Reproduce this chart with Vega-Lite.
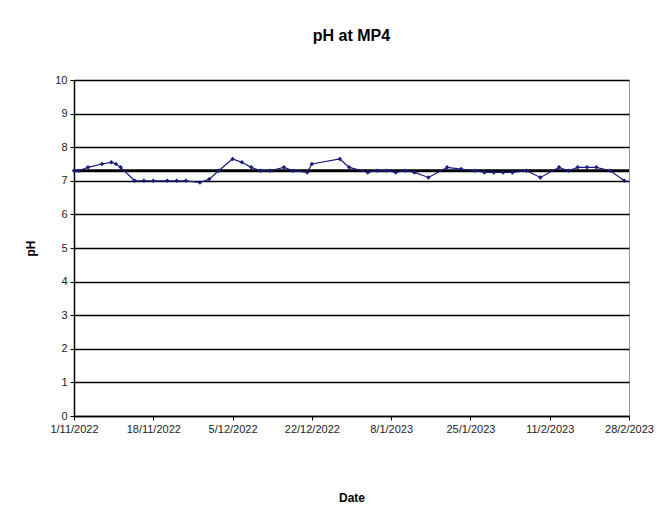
{
  "$schema": "https://vega.github.io/schema/vega-lite/v6.json",
  "width": 555,
  "height": 336,
  "autosize": {"type": "none"},
  "padding": {"left": 74, "top": 80, "right": 42, "bottom": 101},
  "background": "white",
  "title": {"text": "pH at MP4", "fontSize": 16, "font": "Liberation Sans", "fontWeight": "bold", "color": "black", "offset": 30},
  "config": {
    "view": {"stroke": "#999999", "strokeWidth": 1},
    "axis": {"labelFont": "Liberation Sans", "titleFont": "Liberation Sans", "labelColor": "#222222", "titleColor": "black", "labelFontSize": 11, "titleFontSize": 12, "titleFontWeight": "bold"}
  },
  "datasets": {
    "ph": [
      {"date": "2022-11-01", "pH": 7.3},
      {"date": "2022-11-02", "pH": 7.3},
      {"date": "2022-11-04", "pH": 7.4},
      {"date": "2022-11-07", "pH": 7.5},
      {"date": "2022-11-09", "pH": 7.55},
      {"date": "2022-11-10", "pH": 7.5},
      {"date": "2022-11-11", "pH": 7.4},
      {"date": "2022-11-14", "pH": 7.0},
      {"date": "2022-11-16", "pH": 7.0},
      {"date": "2022-11-18", "pH": 7.0},
      {"date": "2022-11-21", "pH": 7.0},
      {"date": "2022-11-23", "pH": 7.0},
      {"date": "2022-11-25", "pH": 7.0},
      {"date": "2022-11-28", "pH": 6.95},
      {"date": "2022-11-30", "pH": 7.05},
      {"date": "2022-12-02", "pH": 7.3},
      {"date": "2022-12-05", "pH": 7.65},
      {"date": "2022-12-07", "pH": 7.55},
      {"date": "2022-12-09", "pH": 7.4},
      {"date": "2022-12-11", "pH": 7.3},
      {"date": "2022-12-13", "pH": 7.3},
      {"date": "2022-12-16", "pH": 7.4},
      {"date": "2022-12-18", "pH": 7.3},
      {"date": "2022-12-21", "pH": 7.25},
      {"date": "2022-12-22", "pH": 7.5},
      {"date": "2022-12-28", "pH": 7.65},
      {"date": "2022-12-30", "pH": 7.4},
      {"date": "2023-01-03", "pH": 7.25},
      {"date": "2023-01-05", "pH": 7.3},
      {"date": "2023-01-07", "pH": 7.3},
      {"date": "2023-01-09", "pH": 7.25},
      {"date": "2023-01-11", "pH": 7.3},
      {"date": "2023-01-13", "pH": 7.25},
      {"date": "2023-01-16", "pH": 7.1},
      {"date": "2023-01-20", "pH": 7.4},
      {"date": "2023-01-23", "pH": 7.35},
      {"date": "2023-01-26", "pH": 7.3},
      {"date": "2023-01-28", "pH": 7.25},
      {"date": "2023-01-30", "pH": 7.25},
      {"date": "2023-02-01", "pH": 7.25},
      {"date": "2023-02-03", "pH": 7.25},
      {"date": "2023-02-06", "pH": 7.3},
      {"date": "2023-02-09", "pH": 7.1},
      {"date": "2023-02-13", "pH": 7.4},
      {"date": "2023-02-15", "pH": 7.3},
      {"date": "2023-02-17", "pH": 7.4},
      {"date": "2023-02-19", "pH": 7.4},
      {"date": "2023-02-21", "pH": 7.4},
      {"date": "2023-02-24", "pH": 7.3},
      {"date": "2023-02-27", "pH": 7.0}
    ],
    "mean": [
      {"date": "2022-11-01", "pH": 7.3},
      {"date": "2023-02-28", "pH": 7.3}
    ]
  },
  "encoding": {
    "x": {
      "field": "date", "type": "temporal", "title": "Date",
      "scale": {"type": "utc", "domain": [{"year": 2022, "month": 11, "date": 1, "utc": true}, {"year": 2023, "month": 2, "date": 28, "utc": true}], "nice": false},
      "axis": {
        "values": [
          {"year": 2022, "month": 11, "date": 1, "utc": true},
          {"year": 2022, "month": 11, "date": 18, "utc": true},
          {"year": 2022, "month": 12, "date": 5, "utc": true},
          {"year": 2022, "month": 12, "date": 22, "utc": true},
          {"year": 2023, "month": 1, "date": 8, "utc": true},
          {"year": 2023, "month": 1, "date": 25, "utc": true},
          {"year": 2023, "month": 2, "date": 11, "utc": true},
          {"year": 2023, "month": 2, "date": 28, "utc": true}
        ],
        "labelExpr": "utcFormat(datum.value, '%-d/%-m/%Y')", "grid": false,
        "domainColor": "black", "domainWidth": 1.5, "tickColor": "black", "tickSize": 4,
        "labelAngle": 0, "labelPadding": 3, "labelFlush": false, "labelOverlap": false, "titlePadding": 58
      }
    },
    "y": {
      "field": "pH", "type": "quantitative", "title": "pH",
      "scale": {"domain": [0, 10], "nice": false, "zero": true},
      "axis": {
        "values": [0, 1, 2, 3, 4, 5, 6, 7, 8, 9, 10], "grid": true, "gridColor": "black", "gridWidth": 1.5, "gridOpacity": 1,
        "domainColor": "black", "domainWidth": 1.5, "tickColor": "black", "tickSize": 4, "labelPadding": 3, "titlePadding": 17
      }
    }
  },
  "layer": [
    {
      "data": {"name": "mean"},
      "mark": {"type": "line", "color": "black", "strokeWidth": 3}
    },
    {
      "data": {"name": "ph"},
      "mark": {"type": "line", "color": "#1a1a80", "strokeWidth": 1.2, "point": {"shape": "diamond", "size": 20, "filled": true, "color": "#1a1a80"}}
    }
  ]
}
